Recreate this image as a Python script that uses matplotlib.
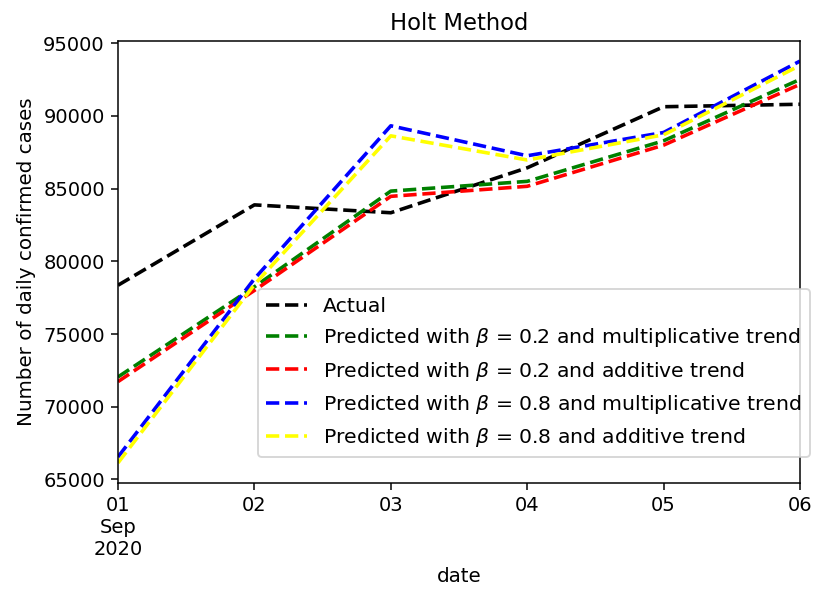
import matplotlib
matplotlib.use("Agg")
import matplotlib.pyplot as plt
import numpy as np
import datetime as dt

dates = [dt.date(2020, 9, d) for d in range(1, 7)]
tick_labels = ["01\nSep\n2020", "02", "03", "04", "05", "06"]

actual = [78357, 83883, 83341, 86432, 90632, 90802]
pred_b02_mul = [72050, 78250, 84830, 85500, 88290, 92510]
pred_b02_add = [71730, 78000, 84470, 85160, 87990, 92170]
pred_b08_mul = [66550, 78800, 89320, 87260, 88860, 93770]
pred_b08_add = [66140, 78400, 88630, 86970, 88700, 93470]

series = [
    ("Actual", actual, "black"),
    (r"Predicted with $\beta$ = 0.2 and multiplicative trend", pred_b02_mul, "green"),
    (r"Predicted with $\beta$ = 0.2 and additive trend", pred_b02_add, "red"),
    (r"Predicted with $\beta$ = 0.8 and multiplicative trend", pred_b08_mul, "blue"),
    (r"Predicted with $\beta$ = 0.8 and additive trend", pred_b08_add, "yellow"),
]

plt.rcParams['font.family'] = ['DejaVu Sans']
plt.rcParams['font.size'] = 10.3

DPI = 136
W, H = 814, 592
fig = plt.figure(figsize=(W / DPI, H / DPI), dpi=DPI)
ax = fig.add_axes([118 / W, 1 - 483 / H, (800 - 118) / W, (483 - 41) / H])

x = np.array(dates, dtype="datetime64[D]")
for label, vals, color in series:
    ax.plot(x, vals, linestyle="--", color=color, linewidth=1.9, label=label)

ax.set_xlim(x[0], x[-1])
ax.set_xticks(x)
ax.set_xticklabels(tick_labels)
ax.set_yticks([65000, 70000, 75000, 80000, 85000, 90000, 95000])
ax.set_xlabel("date", fontsize=10.5)
ax.set_ylabel("Number of daily confirmed cases", fontsize=10.5)
ax.set_title("Holt Method", fontsize=12)

leg = ax.legend(loc="upper left", bbox_to_anchor=(258 / W, 1 - 289 / H),
                bbox_transform=fig.transFigure, borderaxespad=0,
                fontsize=10.8, labelspacing=0.5, handlelength=2.0)

fig.savefig("out.png", dpi=DPI)
